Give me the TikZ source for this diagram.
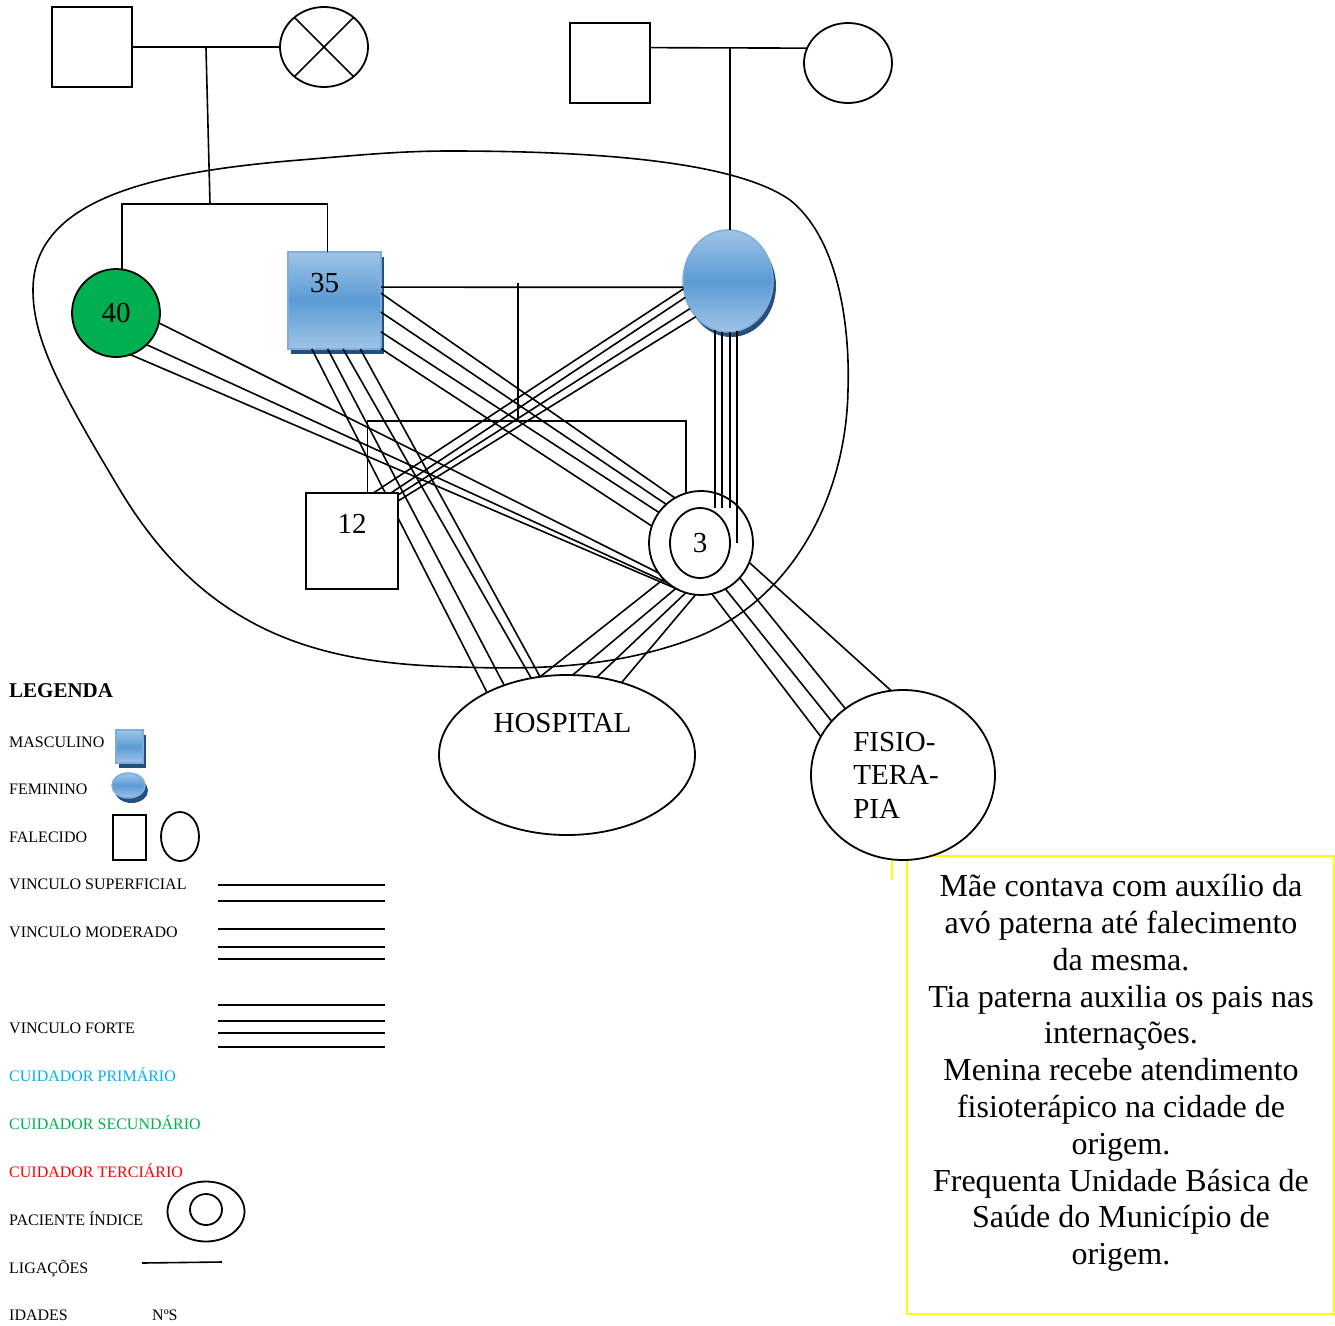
\documentclass[tikz,border=0pt]{standalone}
\usepackage{fontspec}
\setmainfont{Liberation Serif}
\usetikzlibrary{shapes.geometric,shadows}

\definecolor{azulclaro}{RGB}{160,196,230}
\definecolor{azulmedio}{RGB}{91,155,213}
\definecolor{azulborda}{RGB}{125,172,222}
\definecolor{azulsombra}{RGB}{38,80,124}
\definecolor{verde}{RGB}{0,176,80}
\definecolor{ciano}{RGB}{0,176,240}
\definecolor{vermelho}{RGB}{255,0,0}
\definecolor{amarelo}{RGB}{255,255,0}

\pgfdeclarelayer{frente}
\pgfsetlayers{main,frente}

\tikzset{
  liga/.style={line width=1.6pt},
  contorno/.style={draw, line width=1.8pt, inner sep=0pt, outer sep=0pt},
  quadrado/.style={contorno, rectangle, fill=white},
  oval/.style={contorno, ellipse, fill=white},
  azul/.style={draw=azulborda, line width=1.5pt, inner sep=0pt, outer sep=0pt,
    top color=azulclaro, bottom color=azulclaro, middle color=azulmedio,
    drop shadow={shadow xshift=3pt, shadow yshift=-5pt, fill=azulsombra, opacity=1}},
  rotulo/.style={font=\fontsize{29}{33.5}\selectfont},
  legenda/.style={anchor=base west, inner sep=0pt, font=\fontsize{16}{19}\selectfont},
  caixa/.style={draw=amarelo, line width=1.6pt},
  nota/.style={align=center, inner sep=0pt, font=\fontsize{32}{36.8}\selectfont}
}

\begin{document}
\begin{tikzpicture}[x=1pt,y=-1pt]
\useasboundingbox (0,0) rectangle (1335,1325);

%contorno da familia
\draw[liga] (450,151) .. controls (620,151) and (740,165) .. (790,200)
  .. controls (840,240) and (850,330) .. (848,390)
  .. controls (846,500) and (790,600) .. (697,637)
  .. controls (620,667) and (540,670) .. (460,667)
  .. controls (330,664) and (210,640) .. (120,490)
  .. controls (60,390) and (33,340) .. (33,290)
  .. controls (33,200) and (150,172) .. (300,160)
  .. controls (360,155) and (400,151) .. cycle;

%caixa de observacoes
\draw[caixa] (907,856) rectangle (1334,1314);
\draw[caixa] (892,860) -- (892,880);
\node[nota] (nota) at (1121,1073) {M\~ae contava com aux\'ilio da\\av\'o paterna at\'e falecimento\\da mesma.\\Tia paterna auxilia os pais nas\\interna\c{c}\~oes.\\Menina recebe atendimento\\fisioter\'apico na cidade de\\origem.\\Frequenta Unidade B\'asica de\\Sa\'ude do Munic\'ipio de\\origem.};

%avos paternos
\node[quadrado, minimum size=80pt] (avoP) at (92,47) {};
\node[oval, minimum width=88pt, minimum height=80pt] (avoPf) at (324,47) {};
\draw[liga] (avoPf.45) -- (avoPf.-135);
\draw[liga] (avoPf.135) -- (avoPf.-45);
\draw[liga] (avoP.east) -- (avoPf.west);
\coordinate (uniaoP) at (206,48);
\coordinate (filhosP) at (210,204);
\draw[liga] (uniaoP) -- (filhosP);

%avos maternos
\node[quadrado, minimum size=80pt] (avoM) at (610,63) {};
\node[oval, minimum width=88pt, minimum height=80pt] (avoMf) at (848,63) {};
\draw[liga] (avoM.21) -- (avoMf.160);
\coordinate (uniaoM) at (730,48);

%nucleo familiar
\node[contorno, circle, minimum size=88pt, fill=verde, rotulo] (tia) at (116,313) {40};
\node[azul, minimum width=93pt, minimum height=97pt,
  label={[rotulo,xshift=-10pt,yshift=17pt]center:35}] (pai) at (334.5,300.5) {};
\node[azul, ellipse, minimum width=90pt, minimum height=102pt] (mae) at (728,281) {};
\begin{pgfonlayer}{frente}
\node[quadrado, minimum width=92pt, minimum height=96pt,
  label={[rotulo,yshift=17.5pt]center:12}] (irmao) at (352,541) {};
\end{pgfonlayer}
\node[contorno, circle, minimum size=104pt] (pac) at (701,543) {};
\node[contorno, ellipse, minimum width=60pt, minimum height=70pt, rotulo] (paci) at (700,543) {3};
\node[oval, minimum width=256pt, minimum height=160pt,
  label={[rotulo,xshift=-4.5pt,yshift=32pt]center:HOSPITAL}] (hosp) at (567,755) {};
\node[oval, minimum width=184pt, minimum height=170pt,
  label={[rotulo,align=left,xshift=-7pt]center:FISIO-\\TERA-\\PIA}] (fisio) at (903,775) {};

%descendencia
\draw[liga] (tia.82) |- (filhosP) -| (pai.98);
\draw[liga] (uniaoM) -- (uniaoM |- mae.north);
\draw[liga] (pai.16) -- (mae.188);
\coordinate (uniaoC) at (518,283);
\coordinate (filhosC) at (518,421);
\draw[liga] (uniaoC) -- (filhosC);
\draw[liga] (irmao.72) |- (filhosC) -| (pac.107);

%vinculos
\foreach \a/\b in {-13/215, -46/230, -71/241}
  \draw[liga] (tia.\a) -- (pac.\b);
\foreach \a/\b in {9/120, -14/132, -34/144, -46/161}
  \draw[liga] (pai.\a) -- (pac.\b);
\foreach \a/\b in {190/66, 201/51, 216/45, 228/41}
  \draw[liga] (mae.\a) -- (irmao.\b);
\foreach \a in {255,263,272}
  \draw[liga] (mae.\a) -- (mae.\a |- paci.north);
\draw[liga] (mae.280) -- (mae.280 |- pac.center);
\foreach \a/\b in {224/109, 241/86, 253/69, 264/53}
  \draw[liga] (pac.\a) -- (hosp.\b);
\foreach \a/\b in {245/142, 262/132, 280/115, 298/109}
  \draw[liga] (pai.\a) -- (hosp.\b);
\foreach \a/\b in {-78/155, -62/143, -42/131, -22/98}
  \draw[liga] (pac.\a) -- (fisio.\b);

%legenda
\node[legenda, font=\bfseries\fontsize{21}{25}\selectfont] (leg) at (9,697) {LEGENDA};
\node[legenda] (lmasc) at (9,747) {MASCULINO};
\node[legenda] (lfem) at (9,794) {FEMININO};
\node[legenda] (lfal) at (9,842) {FALECIDO};
\node[legenda] (lsup) at (9,889) {VINCULO SUPERFICIAL};
\node[legenda] (lmod) at (9,937) {VINCULO MODERADO};
\node[legenda] (lfor) at (9,1033) {VINCULO FORTE};
\node[legenda, text=ciano] (lcp) at (9,1081) {CUIDADOR PRIM\'ARIO};
\node[legenda, text=verde] (lcs) at (9,1129) {CUIDADOR SECUND\'ARIO};
\node[legenda, text=vermelho] (lct) at (9,1177) {CUIDADOR TERCI\'ARIO};
\node[legenda] (lpac) at (9,1225) {PACIENTE \'INDICE};
\node[legenda] (llig) at (9,1273) {LIGA\c{C}\~OES};
\node[legenda] (lida) at (9,1320) {IDADES};
\node[legenda] (lnum) at (152,1320) {NºS};

\node[azul, minimum width=27pt, minimum height=33pt] (smasc) at (129.5,746.5) {};
\node[azul, ellipse, minimum width=33pt, minimum height=25pt] (sfem) at (128.5,785.5) {};
\node[quadrado, minimum width=33pt, minimum height=45pt] (sfalq) at (129.5,837.5) {};
\node[oval, minimum width=38pt, minimum height=49pt] (sfalo) at (180,836.5) {};
\foreach \y in {885,901}
  \draw[liga] (218,\y) -- (385,\y);
\foreach \y in {929,947,959}
  \draw[liga] (218,\y) -- (385,\y);
\foreach \y in {1005,1021,1033,1047}
  \draw[liga] (218,\y) -- (385,\y);
\node[oval, minimum width=77pt, minimum height=60pt] (spac) at (206,1211.5) {};
\node[oval, minimum width=32pt, minimum height=31pt] (spaci) at (206,1209.5) {};
\draw[liga] (142,1263) -- (222,1262);

\end{tikzpicture}
\end{document}
